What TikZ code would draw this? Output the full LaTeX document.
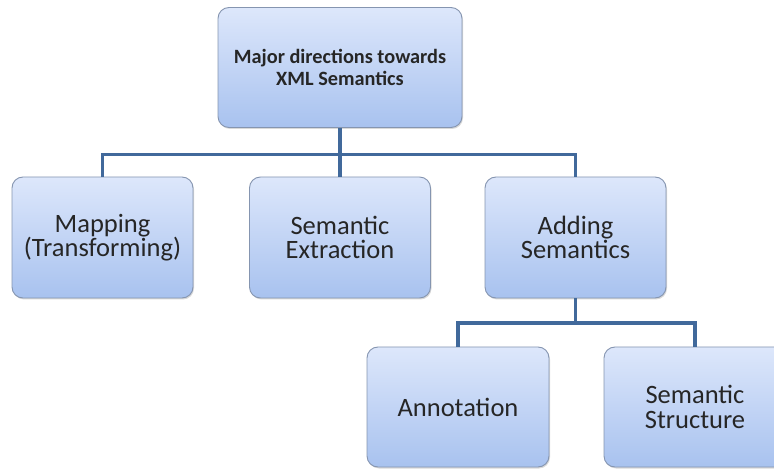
\documentclass[tikz,border=0pt]{standalone}
\usepackage{fontspec}
\setmainfont{Carlito}
\usetikzlibrary{shadows}
\definecolor{boxtop}{HTML}{DDE7FB}
\definecolor{boxbot}{HTML}{A8C2EF}
\definecolor{boxline}{HTML}{8595B0}
\definecolor{conn}{HTML}{41699B}
\tikzset{
  card/.style={rectangle, rounded corners=11pt, draw=boxline, line width=0.9pt,
    top color=boxtop, bottom color=boxbot, align=center, text=black!85,
    drop shadow={shadow xshift=1pt, shadow yshift=-1.5pt, opacity=0.25, fill=black!60},
    inner sep=0pt},
  lvl/.style={card, minimum width=181pt, minimum height=121pt, font=\fontsize{26.5}{24.5}\selectfont},
  topcard/.style={card, minimum width=244pt, minimum height=120pt, font=\bfseries\fontsize{20.3}{22}\selectfont},
  bus/.style={draw=conn, line width=3.5pt}
}
\begin{document}
\begin{tikzpicture}[x=1pt,y=1pt]
\useasboundingbox (0,0) rectangle (774,-470);
\node[topcard] (top) at (340,-67.5) {Major directions towards\\XML Semantics};
\node[lvl] (map) at (102.5,-237.5) {Mapping\\(Transforming)};
\node[lvl] (ext) at (340,-237.5) {Semantic\\Extraction};
\node[lvl] (add) at (575.5,-237.5) {Adding\\Semantics};
\node[lvl, minimum width=182pt, minimum height=120pt] (ann) at (458,-407) {Annotation};
\node[lvl, minimum width=182pt, minimum height=120pt] (sst) at (695,-407) {Semantic\\Structure};
\coordinate (b1) at (0,-154.5);
\coordinate (b2) at (0,-323);
\draw[bus] (top.south) -- (top.south |- b1);
\draw[bus] (map.north) -- (map.north |- b1) -| (add.north);
\draw[bus] (ext.north) -- (ext.north |- b1);
\draw[bus] (add.south) -- (add.south |- b2);
\draw[bus] (ann.north) -- (ann.north |- b2) -| (sst.north);
\end{tikzpicture}
\end{document}
